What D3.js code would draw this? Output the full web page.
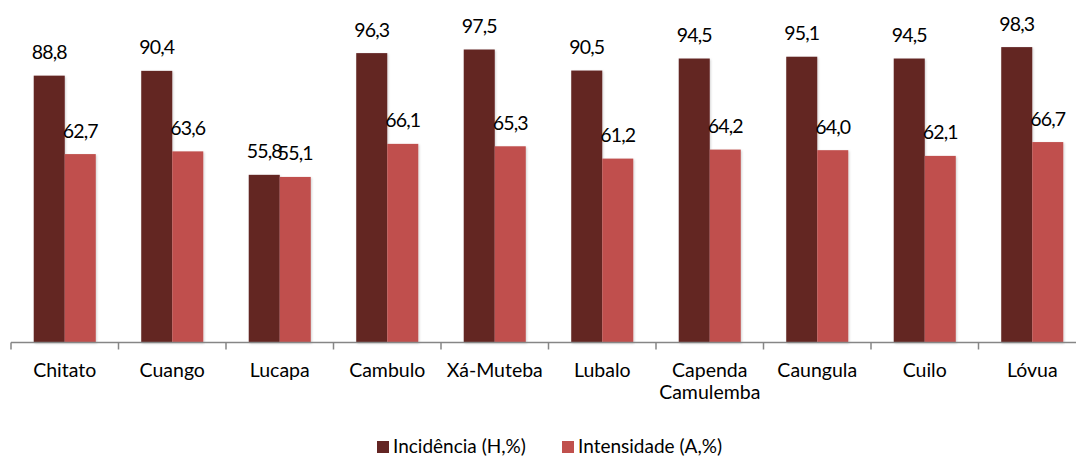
<!DOCTYPE html>
<html><head><meta charset="utf-8">
<script src="https://cdn.jsdelivr.net/npm/d3@7"></script>
<style>body{margin:0;background:#fff}svg{display:block}</style>
</head><body>
<svg id="c" width="1076" height="457"></svg>
<script>
const categories = ["Chitato","Cuango","Lucapa","Cambulo","Xá-Muteba","Lubalo","Capenda Camulemba","Caungula","Cuilo","Lóvua"];
const incidencia = [88.8,90.4,55.8,96.3,97.5,90.5,94.5,95.1,94.5,98.3];
const intensidade = [62.7,63.6,55.1,66.1,65.3,61.2,64.2,64.0,62.1,66.7];
const seriesNames = ["Incidência (H,%)","Intensidade (A,%)"];
const colors = ["#632523","#C0504D"];

const svg = d3.select("#c");
const FONT = "Lato, 'Open Sans', sans-serif";
const x0 = 11, step = 107.5;
const x = d3.scaleBand().domain(categories).range([x0, x0 + step*categories.length]).paddingInner(0.423).paddingOuter(0.2115);
const xs = d3.scaleBand().domain([0,1]).range([0, x.bandwidth()]);
const y = d3.scaleLinear().domain([0,100]).range([342.5, 42]);
const fmt = v => d3.format(".1f")(v).replace(".", ",");

const defs = svg.append("defs");
const f = defs.append("filter").attr("id","sh").attr("x","-20%").attr("y","-20%").attr("width","150%").attr("height","150%");
f.append("feDropShadow").attr("dx",1).attr("dy",1).attr("stdDeviation",1.2).attr("flood-color","#000").attr("flood-opacity",0.18);

const data = categories.map((c,i)=>({c, v:[incidencia[i], intensidade[i]]}));
const g = svg.append("g").selectAll("g").data(data).join("g").attr("transform", d=>`translate(${x(d.c)},0)`);
g.selectAll("rect").data(d=>d.v).join("rect")
  .attr("x",(v,j)=>xs(j)).attr("width",xs.bandwidth())
  .attr("y",v=>y(v)).attr("height",v=>y(0)-y(v))
  .attr("fill",(v,j)=>colors[j]).attr("filter","url(#sh)");
g.selectAll("text").data(d=>d.v).join("text")
  .attr("x",(v,j)=>xs(j)+xs.bandwidth()/2).attr("y",v=>y(v)-16.5)
  .attr("text-anchor","middle").attr("font-family",FONT).attr("font-size",19.5)
  .attr("letter-spacing",-0.9).attr("fill","#000")
  .text(fmt);

// axis
const ax = svg.append("g");
ax.append("line").attr("x1",x0).attr("x2",1076).attr("y1",y(0)).attr("y2",y(0)).attr("stroke","#868686").attr("stroke-width",1.5);
ax.selectAll("line.t").data(d3.range(categories.length+1)).join("line").attr("class","t")
  .attr("x1",i=>x0+i*step).attr("x2",i=>x0+i*step).attr("y1",y(0)).attr("y2",y(0)+7)
  .attr("stroke","#868686").attr("stroke-width",1.5);
ax.selectAll("text").data(categories).join("text")
  .attr("x",c=>x(c)+x.bandwidth()/2).attr("y",377)
  .attr("text-anchor","middle").attr("font-family",FONT).attr("font-size",19.5).attr("fill","#000")
  .each(function(c){
    const parts = c==="Capenda Camulemba" ? ["Capenda","Camulemba"] : [c];
    const t = d3.select(this);
    parts.forEach((p,k)=>t.append("tspan").attr("x",x(c)+x.bandwidth()/2).attr("dy",k?22:0).text(p));
  });

// legend
const leg = svg.append("g");
const legX = [377, 562];
seriesNames.forEach((n,i)=>{
  leg.append("rect").attr("x",legX[i]).attr("y",441).attr("width",12).attr("height",12).attr("fill",colors[i]);
  leg.append("text").attr("x",legX[i]+16).attr("y",453).attr("font-family",FONT).attr("font-size",19).attr("fill","#000").text(n);
});
</script>
</body></html>
